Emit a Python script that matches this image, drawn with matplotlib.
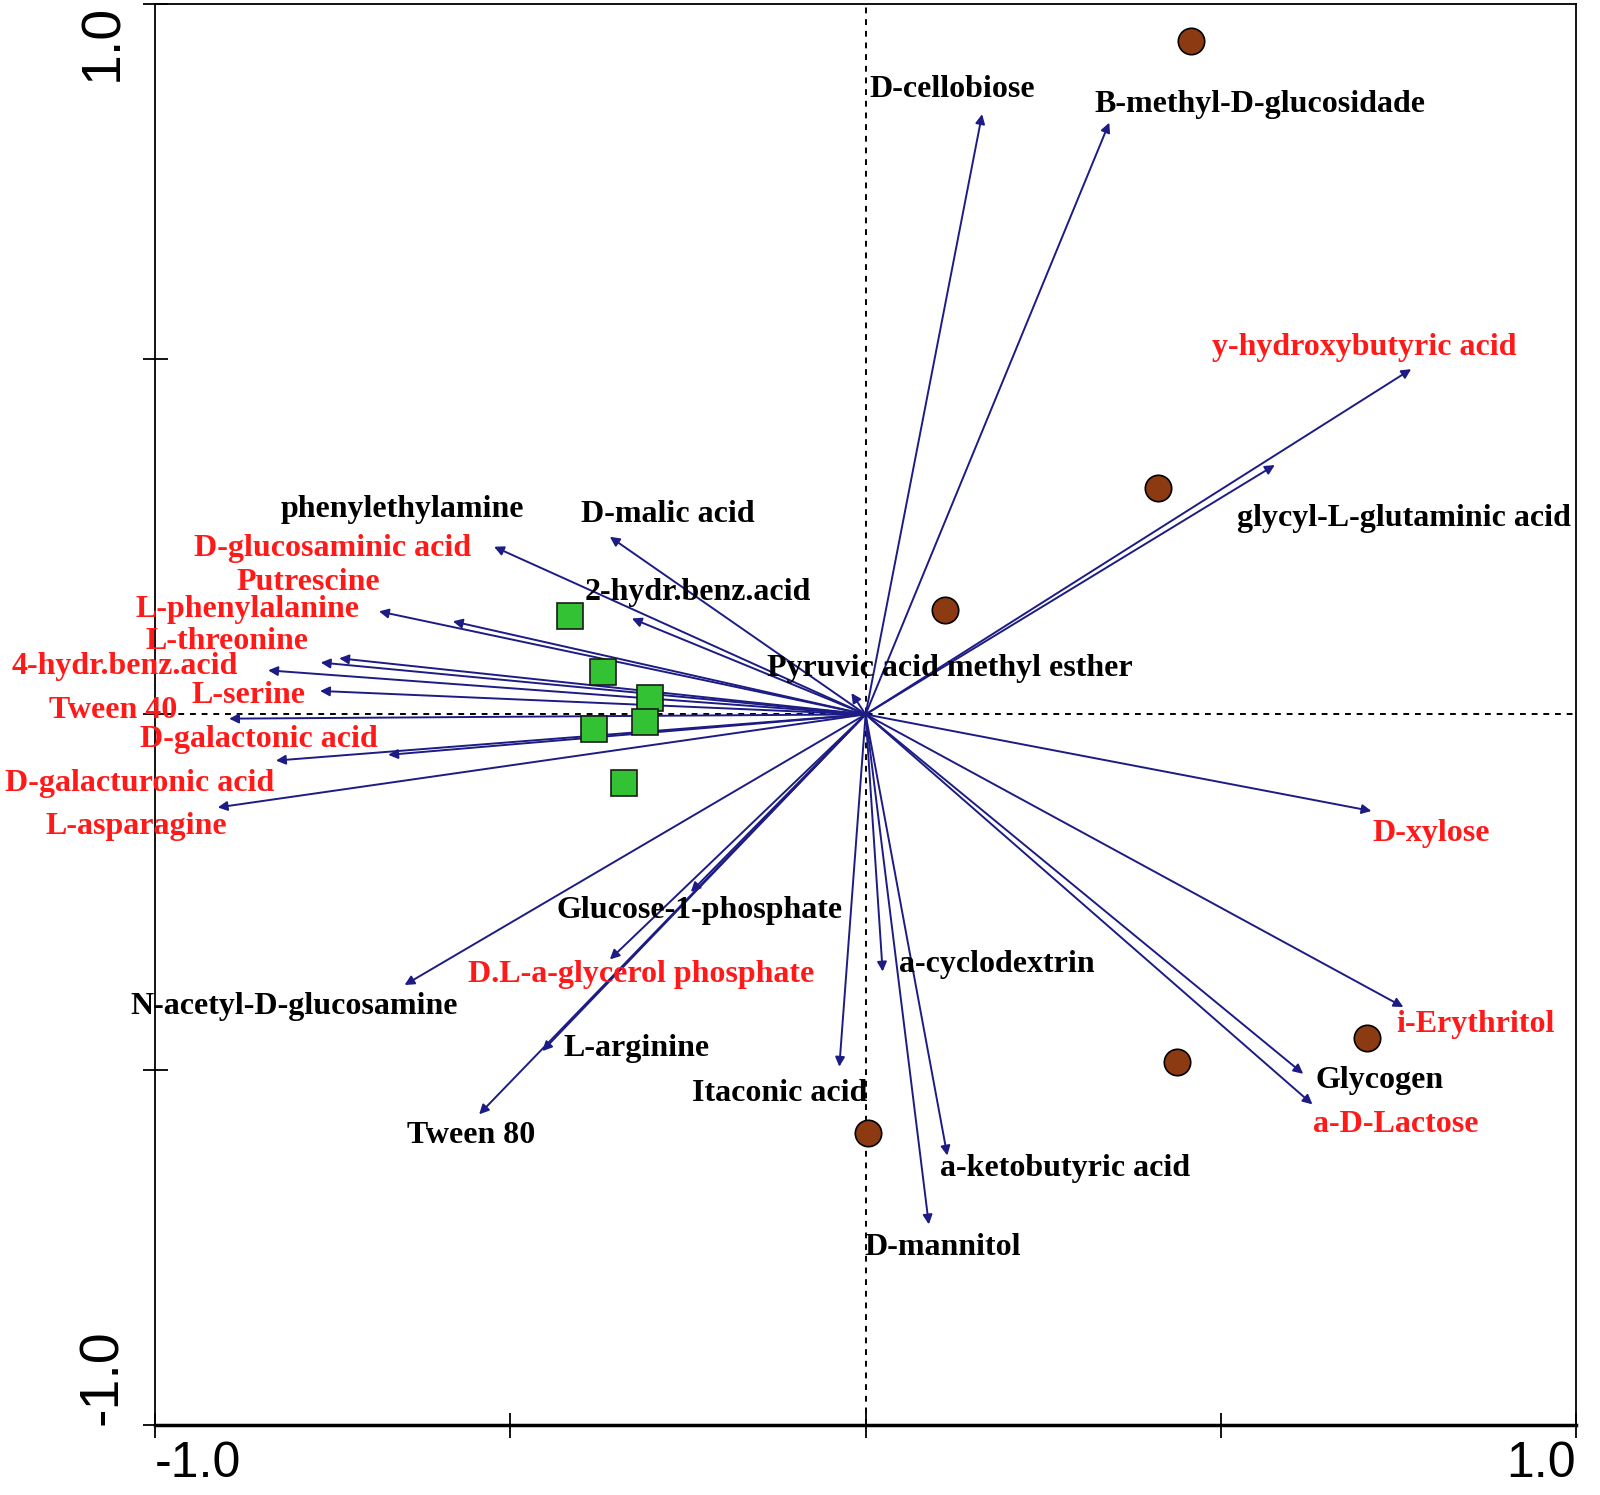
import matplotlib
matplotlib.use("Agg")
import matplotlib.pyplot as plt

# species (substrate) vectors: name, end point, label colour flag
names = ["D-cellobiose", "B-methyl-D-glucosidade", "y-hydroxybutyric acid",
         "glycyl-L-glutaminic acid", "phenylethylamine", "D-malic acid",
         "D-glucosaminic acid", "Putrescine", "2-hydr.benz.acid",
         "L-phenylalanine", "L-threonine", "4-hydr.benz.acid",
         "Pyruvic acid methyl esther", "L-serine", "Tween 40",
         "D-galactonic acid", "D-galacturonic acid", "L-asparagine",
         "D-xylose", "Glucose-1-phosphate", "a-cyclodextrin",
         "D.L-a-glycerol phosphate", "N-acetyl-D-glucosamine", "i-Erythritol",
         "L-arginine", "Glycogen", "Itaconic acid", "a-D-Lactose",
         "Tween 80", "a-ketobutyric acid", "D-mannitol"]
vec_x = [0.164, 0.343, 0.768, 0.576, -0.741, -0.360, -0.523, -0.581, -0.329,
         -0.685, -0.767, -0.841, -0.020, -0.768, -0.896, -0.830, -0.672, -0.912,
         0.712, -0.246, 0.024, -0.360, -0.649, 0.757, -0.455, 0.616, -0.037,
         0.629, -0.544, 0.115, 0.089]
vec_y = [0.845, 0.833, 0.486, 0.351, 0.079, 0.250, 0.236, 0.131, 0.135,
         0.145, 0.073, 0.062, 0.030, 0.033, -0.006, -0.065, -0.057, -0.131,
         -0.136, -0.250, -0.362, -0.345, -0.381, -0.412, -0.474, -0.506, -0.496,
         -0.549, -0.563, -0.621, -0.718]
highlight = [0, 0, 1, 0, 0, 0, 1, 1, 0, 1, 1, 1, 0, 1, 1, 1, 1, 1,
             1, 0, 0, 1, 0, 1, 0, 0, 0, 1, 0, 0, 0]

# label anchors (left edge, vertical centre)
lab_x = [0.006, 0.322, 0.487, 0.523, -0.824, -0.401, -0.946, -0.886, -0.396,
         -1.028, -1.014, -1.202, -0.139, -0.949, -1.150, -1.021, -1.212, -1.154,
         0.714, -0.435, 0.047, -0.560, -1.035, 0.747, -0.425, 0.633, -0.244,
         0.630, -0.645, 0.105, -0.001]
lab_y = [0.879, 0.859, 0.517, 0.276, 0.289, 0.282, 0.233, 0.185, 0.172,
         0.147, 0.103, 0.068, 0.065, 0.027, 0.006, -0.036, -0.098, -0.158,
         -0.167, -0.276, -0.352, -0.366, -0.411, -0.437, -0.471, -0.516, -0.533,
         -0.578, -0.593, -0.639, -0.750]

# samples
circ_x = [0.458, 0.412, 0.112, 0.706, 0.438, 0.004]
circ_y = [0.948, 0.318, 0.147, -0.455, -0.489, -0.589]
sq_x = [-0.416, -0.370, -0.303, -0.310, -0.383, -0.340]
sq_y = [0.139, 0.059, 0.023, -0.011, -0.020, -0.096]

navy = "#1c1c84"

fig = plt.figure(figsize=(16, 14.95), dpi=100)
ax = fig.add_axes([0.097, 0.047, 0.888, 0.9503])
ax.set_xlim(-1, 1)
ax.set_ylim(-1, 1)

ax.axhline(0, color="black", ls=(0, (3, 3)), lw=1.4, zorder=1)
ax.axvline(0, color="black", ls=(0, (3, 3)), lw=1.4, zorder=1)

for i in range(len(names)):
    ax.annotate("", xy=(vec_x[i], vec_y[i]), xytext=(0, 0),
                arrowprops=dict(arrowstyle="-|>", color=navy, lw=1.4,
                                mutation_scale=14, shrinkA=0, shrinkB=0),
                zorder=2)
    col = "#ff1a1a" if highlight[i] else "black"
    ax.text(lab_x[i], lab_y[i], names[i], color=col, fontsize=23,
            fontweight="bold", family="Liberation Serif", ha="left",
            va="center", clip_on=False, zorder=4)

ax.plot(circ_x, circ_y, "o", ms=19, mfc="#8b3a12", mec="black", mew=1.2,
        ls="none", zorder=3)
ax.plot(sq_x, sq_y, "s", ms=19, mfc="#33c233", mec="#1a1a1a", mew=1.2,
        ls="none", zorder=3)

for s in ax.spines.values():
    s.set_linewidth(1.3)
ax.spines["bottom"].set_linewidth(2.5)

ax.set_xticks([-1, -0.5, 0, 0.5, 1])
ax.set_xticklabels(["-1.0", "", "", "", "1.0"])
ax.set_yticks([-1, -0.5, 0, 0.5, 1])
ax.set_yticklabels(["-1.0", "", "", "", "1.0"])
ax.tick_params(direction="inout", length=18, width=1.3)
ax.tick_params(axis="x", labelsize=36, pad=3)
ax.tick_params(axis="y", labelsize=40, pad=10)

xl = ax.get_xticklabels()
xl[0].set_ha("left")
xl[-1].set_ha("right")
for t in xl:
    t.set_family("Liberation Sans")
yl = ax.get_yticklabels()
for t in yl:
    t.set_family("Liberation Sans")
    t.set_rotation(90)
yl[0].set_va("bottom")
yl[-1].set_va("top")

fig.savefig("out.png", dpi=100)
